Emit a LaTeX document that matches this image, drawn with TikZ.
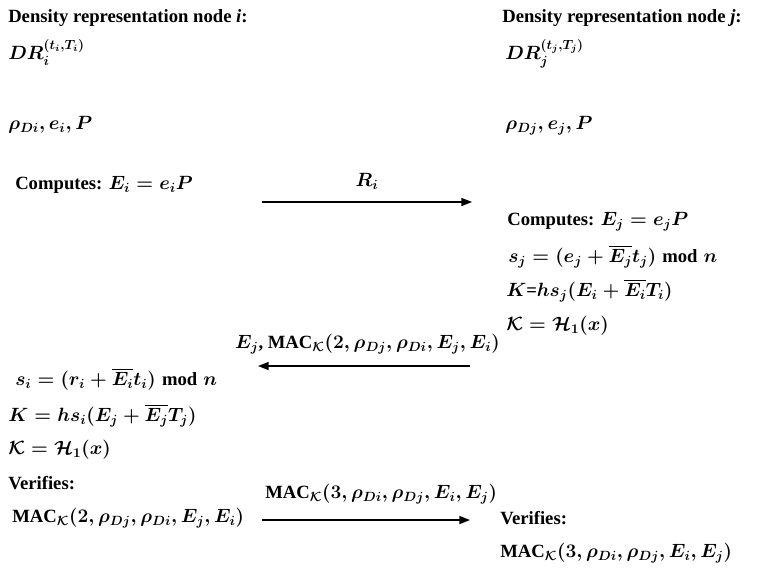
\documentclass[tikz,border=0pt]{standalone}
\usepackage{amsmath}
\usepackage{fontspec}
\setmainfont{Liberation Serif}
\usetikzlibrary{arrows.meta}
\begin{document}
\begin{tikzpicture}[x=0.75pt,y=-0.75pt,
  lbl/.style={anchor=west, inner sep=0pt, text height=10pt, text depth=3pt, font=\fontsize{14}{16}\selectfont\bfseries\boldmath},
  msg/.style={-{Triangle[length=8pt,width=6pt]}, line width=1.1pt}]
\useasboundingbox (0,0) rectangle (759,567);
% left column
\node[lbl] (hi) at (8,18) {Density representation node \textit{i}:};
\node[lbl] (dri) at (8,55) {$DR_i^{(t_i,T_i)}$};
\node[lbl] (pi) at (8,125) {$\rho_{Di}, e_i, P$};
\node[lbl] (ci) at (15,185) {Computes: $E_i = e_iP$};
\node[lbl] (si) at (15,381) {$s_i = (r_i + \overline{E_i}t_i) \bmod n$};
\node[lbl] (ki) at (8,417) {$K = hs_i(E_j + \overline{E_j}T_j)$};
\node[lbl] (kki) at (8,450) {$\mathcal{K} = \mathcal{H}_1(x)$};
\node[lbl] (vi) at (8,485) {Verifies:};
\node[lbl] (mi) at (12,518) {MAC$_{\mathcal{K}}(2, \rho_{Dj}, \rho_{Di}, E_j, E_i)$};
% right column
\node[lbl] (hj) at (502,18) {Density representation node \textit{j}:};
\node[lbl] (drj) at (505,55) {$DR_j^{(t_j,T_j)}$};
\node[lbl] (pj) at (505,125) {$\rho_{Dj}, e_j, P$};
\node[lbl] (cj) at (507,221) {Computes: $E_j = e_jP$};
\node[lbl] (sj) at (508,258) {$s_j = (e_j + \overline{E_j}t_j) \bmod n$};
\node[lbl] (kj) at (506,292) {$K$=$hs_j(E_i + \overline{E_i}T_i)$};
\node[lbl] (kkj) at (506,326) {$\mathcal{K} = \mathcal{H}_1(x)$};
\node[lbl] (vj) at (500,520) {Verifies:};
\node[lbl] (mj) at (500,553) {MAC$_{\mathcal{K}}(3, \rho_{Di}, \rho_{Dj}, E_i, E_j)$};
% messages
\coordinate (a1s) at (262,202); \coordinate (a1e) at (472,202);
\draw[msg] (a1s) -- (a1e) node[midway, above=8pt, lbl, anchor=south] (l1) {$R_i$};
\coordinate (a2s) at (470,366); \coordinate (a2e) at (258,366);
\node[lbl, anchor=south east] (l2) at (500,353) {$E_j$, MAC$_{\mathcal{K}}(2, \rho_{Dj}, \rho_{Di}, E_j, E_i)$};
\draw[msg] (a2s) -- (a2e);
\coordinate (a3s) at (262,520); \coordinate (a3e) at (470,520);
\node[lbl, anchor=south west] (l3) at (265,503) {MAC$_{\mathcal{K}}(3, \rho_{Di}, \rho_{Dj}, E_i, E_j)$};
\draw[msg] (a3s) -- (a3e);
\end{tikzpicture}
\end{document}
